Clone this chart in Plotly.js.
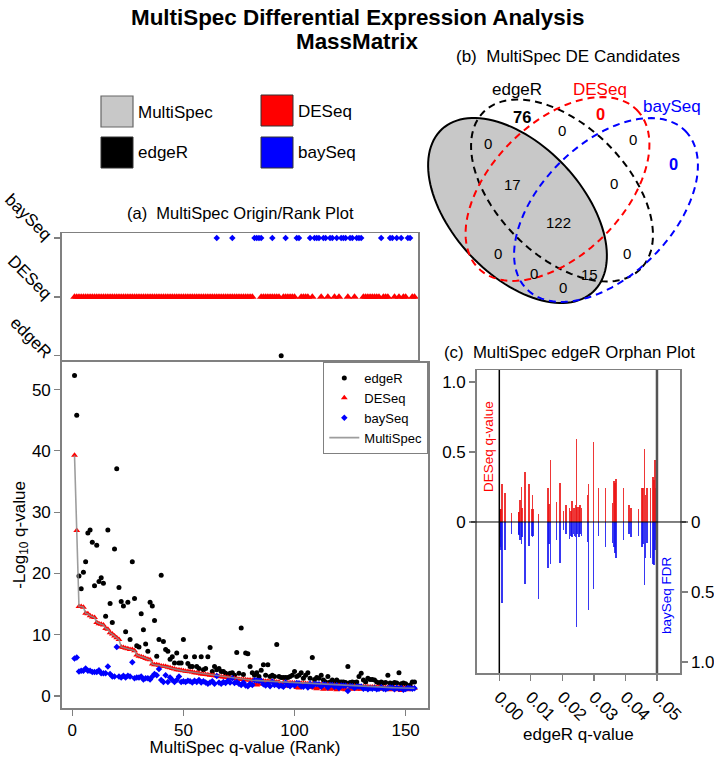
<!DOCTYPE html>
<html><head><meta charset="utf-8">
<script src="https://cdn.plot.ly/plotly-3.0.1.min.js"></script>
<style>html,body{margin:0;padding:0;background:#fff}#chart{width:714px;height:757px}</style>
</head><body><div id="chart"></div>
<script>
const W = 714, H = 757;

// ---------- DATA ----------
// (a) lower: -log10 q-values by MultiSpec rank (1..154)
const edgeRVals = [52.3,45.8,19.6,17.5,20.2,21.9,26.6,27.1,25.1,18.0,
24.6,18.7,19.3,18.4,13.0,27.1,15.1,12.0,24.0,37.1,
17.7,15.4,14.7,10.5,15.3,9.2,21.9,15.9,8.2,8.0,
13.4,10.8,8.5,7.3,15.3,14.7,12.3,6.5,9.2,19.7,
8.9,7.6,7.3,6.0,6.4,5.4,7.0,5.4,5.4,9.2,
6.4,5.3,4.8,4.8,6.4,4.8,4.5,6.4,4.3,4.5,
6.4,7.9,4.0,4.8,4.3,4.5,4.0,4.0,3.7,3.4,
3.7,3.8,3.4,7.1,3.7,11.1,3.5,7.0,6.9,4.8,
3.8,3.4,3.8,3.2,4.2,5.1,3.4,5.1,3.2,3.4,
3.2,8.4,3.2,3.0,3.0,3.0,3.0,3.2,3.4,4.0,
3.2,3.4,3.8,2.9,3.4,3.8,2.9,6.3,2.7,3.0,
2.9,3.4,2.6,2.3,3.2,2.3,2.6,2.3,2.6,2.3,
2.3,2.3,2.2,4.8,2.2,2.3,2.2,2.3,3.2,3.7,
2.6,2.3,2.9,2.7,2.7,2.6,2.3,2.1,2.3,2.1,
2.2,3.4,2.1,2.0,2.2,2.1,3.8,2.0,2.1,2.0,
1.6,1.8,2.3,2.3];
const deseqVals = [39.3,27.0,14.6,14.6,14.5,13.5,13.4,13.1,12.9,12.8,
12.0,11.8,11.7,11.6,11.0,10.9,10.3,10.1,9.8,9.5,
9.2,8.0,7.9,7.8,7.7,7.6,7.6,7.4,6.7,6.5,
6.4,6.3,6.1,6.0,5.9,5.2,5.1,5.1,5.0,4.9,
4.85,4.8,4.7,4.6,4.5,4.4,4.3,4.25,4.2,4.1,
4.05,4.0,3.95,3.9,3.8,3.75,3.7,3.6,3.55,3.5,
3.45,3.4,3.35,3.3,3.25,3.2,3.15,3.1,3.05,3.0,
2.95,2.9,2.85,2.8,2.75,2.7,2.68,2.65,2.62,2.6,
2.57,1.9,1.8,1.9,2.47,2.45,2.42,2.4,2.37,2.35,
2.32,2.3,2.27,1.7,2.22,1.6,2.18,2.16,2.14,2.12,
1.4,1.3,2.06,2.04,2.02,2.0,1.4,1.96,1.3,1.2,
1.4,1.88,1.1,1.2,1.82,1.1,1.2,1.76,1.0,1.72,
1.2,1.1,1.0,1.64,1.2,1.1,1.58,1.1,1.2,1.1,
1.52,1.51,1.5,1.48,1.47,1.46,1.44,1.43,1.1,1.4,
1.39,1.38,1.0,1.1,1.35,1.0,1.33,0.9,1.31,1.3,
1.0,1.1,1.27,1.26];
const baySeqVals = [6.1,6.3,4.0,4.1,4.1,4.5,4.1,4.1,3.9,3.9,
3.9,4.2,3.7,3.7,3.7,4.8,3.6,3.2,3.2,8.0,
3.2,3.0,3.3,3.0,3.3,3.2,5.5,2.9,3.0,3.0,
3.2,2.7,2.9,2.9,2.7,3.2,3.6,3.4,4.4,2.6,
2.3,3.4,2.3,3.0,2.6,2.3,2.6,3.2,2.3,2.4,
2.3,2.5,2.4,2.2,2.5,2.3,2.6,2.2,2.4,2.2,
2.0,2.2,2.4,2.0,3.25,2.2,2.0,2.3,2.1,2.5,
2.2,2.9,2.1,2.3,2.0,1.8,2.2,1.7,1.6,2.0,
1.8,2.55,2.52,2.5,2.47,1.9,1.7,2.0,1.6,2.35,
1.8,1.9,1.6,1.7,1.5,2.2,1.8,1.6,1.9,1.7,
2.1,2.08,1.6,1.5,1.8,1.4,1.98,1.6,1.94,1.92,
1.9,1.5,1.86,1.84,1.4,1.8,1.78,1.5,1.74,1.3,
1.7,1.68,1.66,0.8,1.62,1.6,1.3,1.56,1.55,1.54,
1.2,1.3,1.1,1.25,1.2,1.3,1.1,1.2,1.42,1.2,
1.1,1.25,1.37,1.36,1.1,1.34,1.2,1.32,1.0,1.15,
1.29,1.28,1.2,1.26];
const multiSpecVals = [39.3,27.0,14.6,14.6,14.5,13.5,13.4,13.1,12.9,12.8,
12.0,11.8,11.7,11.6,11.0,10.9,10.3,10.1,9.8,9.5,
9.2,8.0,7.9,7.8,7.7,7.6,7.6,7.4,6.7,6.5,
6.4,6.3,6.1,6.0,5.9,5.2,5.1,5.1,5.0,4.9,
4.85,4.8,4.7,4.6,4.5,4.4,4.3,4.25,4.2,4.1,
4.05,4.0,3.95,3.9,3.8,3.75,3.7,3.6,3.55,3.5,
3.45,3.4,3.35,3.3,3.25,3.2,3.15,3.1,3.05,3.0,
2.95,2.9,2.85,2.8,2.75,2.7,2.68,2.65,2.62,2.6,
2.57,2.55,2.52,2.5,2.47,2.45,2.42,2.4,2.37,2.35,
2.32,2.3,2.27,2.25,2.22,2.2,2.18,2.16,2.14,2.12,
2.1,2.08,2.06,2.04,2.02,2.0,1.98,1.96,1.94,1.92,
1.9,1.88,1.86,1.84,1.82,1.8,1.78,1.76,1.74,1.72,
1.7,1.68,1.66,1.64,1.62,1.6,1.58,1.56,1.55,1.54,
1.52,1.51,1.5,1.48,1.47,1.46,1.44,1.43,1.42,1.4,
1.39,1.38,1.37,1.36,1.35,1.34,1.33,1.32,1.31,1.3,
1.29,1.28,1.27,1.26];

// (a) upper: origin of each rank
const originCategories = ['edgeR','DESeq','baySeq'];
const edgeROriginRanks = [94];
const deseqOriginRuns = [[1,81],[85,93],[95,100],[103,106],[108,108],[112,112],[115,115],[118,118],[120,120],[124,124],[127,127],[131,138],[140,142],[145,145],[147,147],[149,150],[153,154]];
const baySeqOriginRanks = [65,72,82,83,84,85,90,96,101,102,107,109,110,111,113,114,116,117,119,121,122,123,125,126,128,129,130,139,143,144,146,148,151,152];

// (b) Venn counts
const vennSetNames = ['edgeR','DESeq','baySeq'];
const vennCounts = ['76','0','0','0','0','0','17','0','122','0','0','0','15','0'];

// (c) edgeR orphans
const orphanQ = [0.0000,0.0002,0.0004,0.0006,0.0008,0.0018,0.0038,0.0061,0.0063,0.0066,
0.0070,0.0072,0.0081,0.0094,0.0103,0.0105,0.0109,0.0125,0.0154,0.0158,
0.0162,0.0182,0.0193,0.0203,0.0212,0.0222,0.0227,0.0230,0.0235,0.0238,
0.0241,0.0244,0.0247,0.0253,0.0256,0.0260,0.0279,0.0283,0.0298,0.0315,
0.0337,0.0359,0.0364,0.0367,0.0370,0.0394,0.0411,0.0418,0.0441,0.0453,
0.0456,0.0460,0.0464,0.0468,0.0479,0.0487,0.0490,0.0494,0.0497];
const orphanDESeq = [0.086,0.09,0.085,0.09,0.27,0.21,0.064,0.07,0.07,0.16,
0.25,0.10,0.36,0.27,0.093,0.19,0.09,0.06,0.24,0.13,
0.44,0.14,0.28,0.08,0.12,0.10,0.08,0.15,0.10,0.10,
0.12,0.59,0.11,0.11,0.12,0.10,0.19,0.27,0.57,0.24,
0.24,0.135,0.29,0.28,0.31,0.24,0.12,0.10,0.093,0.24,
0.24,0.52,0.19,0.24,0.24,0.32,0.30,0.44,0.24];
const orphanBaySeq = [0.25,0.11,0.18,0.2,0.58,0.2,0.085,0.085,0.09,0.13,
0.16,0.11,0.44,0.17,0.10,0.11,0.10,0.55,0.33,0.16,
0.30,0.13,0.29,0.06,0.085,0.12,0.10,0.11,0.085,0.10,
0.11,0.75,0.085,0.11,0.085,0.10,0.145,0.63,0.48,0.10,
0.18,0.15,0.18,0.22,0.26,0.13,0.085,0.11,0.10,0.18,
0.16,0.45,0.26,0.15,0.26,0.30,0.31,0.20,0.13];
const orphanTicks = [0,0.01,0.02,0.03,0.04,0.05];
const orphanTickText = ['0.00','0.01','0.02','0.03','0.04','0.05'];

// ---------- BUILD ----------
const ranks = multiSpecVals.map((_, i) => i + 1);
const deseqOriginRanks = [];
deseqOriginRuns.forEach(([a, b]) => { for (let r = a; r <= b; r++) deseqOriginRanks.push(r); });

const px = x => x / W, py = y => 1 - y / H;
const FONT = 'Liberation Sans, Arial, Helvetica, sans-serif';
const GRAY = '#808080';

const traces = [
  {x: ranks, y: edgeRVals, name: 'edgeR', type: 'scatter', mode: 'markers', xaxis: 'x', yaxis: 'y',
   marker: {color: 'black', size: 5, symbol: 'circle'}},
  {x: ranks, y: deseqVals, name: 'DESeq', type: 'scatter', mode: 'markers', xaxis: 'x', yaxis: 'y',
   marker: {color: 'red', size: 6, symbol: 'triangle-up'}},
  {x: ranks, y: baySeqVals, name: 'baySeq', type: 'scatter', mode: 'markers', xaxis: 'x', yaxis: 'y',
   marker: {color: 'blue', size: 5, symbol: 'diamond'}},
  {x: ranks, y: multiSpecVals, name: 'MultiSpec', type: 'scatter', mode: 'lines', xaxis: 'x', yaxis: 'y',
   line: {color: 'rgba(140,140,140,0.85)', width: 1.6}},
  // origin plot
  {x: deseqOriginRanks, y: deseqOriginRanks.map(() => 1), type: 'scatter', mode: 'markers', xaxis: 'x2', yaxis: 'y2',
   marker: {color: 'red', size: 7.5, symbol: 'triangle-up'}, showlegend: false},
  {x: baySeqOriginRanks, y: baySeqOriginRanks.map(() => 2), type: 'scatter', mode: 'markers', xaxis: 'x2', yaxis: 'y2',
   marker: {color: 'blue', size: 5, symbol: 'diamond'}, showlegend: false},
  {x: edgeROriginRanks, y: edgeROriginRanks.map(() => 0), type: 'scatter', mode: 'markers', xaxis: 'x2', yaxis: 'y2',
   marker: {color: 'black', size: 5, symbol: 'circle'}, showlegend: false},
  // orphan plot
  {x: orphanQ, y: orphanDESeq, type: 'bar', xaxis: 'x3', yaxis: 'y3', width: 0.00045,
   marker: {color: 'rgba(235,20,20,0.85)', line: {width: 0}}, showlegend: false},
  {x: orphanQ, y: orphanBaySeq.map(v => -v), type: 'bar', xaxis: 'x3', yaxis: 'y4', width: 0.00045,
   marker: {color: 'rgba(20,20,240,0.85)', line: {width: 0}}, showlegend: false}
];

const axBase = {showline: true, mirror: true, linecolor: GRAY, linewidth: 1.5, showgrid: false, zeroline: false,
  ticks: 'outside', ticklen: 6, tickcolor: GRAY, tickwidth: 1.2, tickfont: {family: FONT, size: 17, color: 'black'}};

function ell(cx, cy, a, b, deg) {
  const t = deg * Math.PI / 180; let d = '';
  for (let i = 0; i <= 120; i++) {
    const u = 2 * Math.PI * i / 120;
    const x = cx + a * Math.cos(u) * Math.cos(t) - b * Math.sin(u) * Math.sin(t);
    const y = cy + a * Math.cos(u) * Math.sin(t) + b * Math.sin(u) * Math.cos(t);
    d += (i ? 'L' : 'M') + px(x).toFixed(5) + ',' + py(y).toFixed(5);
  }
  return d + 'Z';
}

const shapes = [
  // key squares
  {type: 'rect', xref: 'paper', yref: 'paper', x0: px(101), x1: px(133), y0: py(96), y1: py(127), fillcolor: '#c8c8c8', line: {color: '#666', width: 1.2}},
  {type: 'rect', xref: 'paper', yref: 'paper', x0: px(261), x1: px(293), y0: py(95), y1: py(126), fillcolor: 'red', line: {color: '#333', width: 1}},
  {type: 'rect', xref: 'paper', yref: 'paper', x0: px(101), x1: px(133), y0: py(137), y1: py(168), fillcolor: 'black', line: {color: '#333', width: 1}},
  {type: 'rect', xref: 'paper', yref: 'paper', x0: px(261), x1: px(293), y0: py(137), y1: py(168), fillcolor: 'blue', line: {color: '#333', width: 1}},
  // Venn ellipses
  {type: 'path', xref: 'paper', yref: 'paper', path: ell(517.5, 210.5, 111, 65, 47), fillcolor: '#c8c8c8', line: {color: 'black', width: 2}},
  {type: 'path', xref: 'paper', yref: 'paper', path: ell(562, 190.5, 111, 65, 45), line: {color: 'black', width: 2, dash: '7px,5px'}},
  {type: 'path', xref: 'paper', yref: 'paper', path: ell(557.5, 189, 112, 66, -45), line: {color: 'red', width: 2, dash: '7px,5px'}},
  {type: 'path', xref: 'paper', yref: 'paper', path: ell(606, 210, 112, 66, -45), line: {color: 'blue', width: 2, dash: '7px,5px'}},
  // orphan plot guides
  {type: 'line', xref: 'x3', yref: 'y3 domain', x0: 0, x1: 0, y0: 0, y1: 1, line: {color: 'black', width: 1.5}},
  {type: 'line', xref: 'x3', yref: 'y3 domain', x0: 0.05, x1: 0.05, y0: 0, y1: 1, line: {color: '#555', width: 2.5}},
  {type: 'line', xref: 'paper', yref: 'y3', x0: px(471), x1: px(686), y0: 0, y1: 0, line: {color: 'black', width: 1}}
];

const ann = (text, x, y, size, color, extra) => Object.assign({text, xref: 'paper', yref: 'paper', x: px(x), y: py(y),
  showarrow: false, font: {family: FONT, size, color: color || 'black'}, xanchor: 'center', yanchor: 'middle'}, extra || {});

const annotations = [
  ann('<b>MultiSpec Differential Expression Analysis</b>', 357, 17, 22.4),
  ann('<b>MassMatrix</b>', 357, 42, 22.4),
  ann('MultiSpec', 136, 112, 17, 'black', {xanchor: 'left'}),
  ann('DESeq', 296, 111, 17, 'black', {xanchor: 'left'}),
  ann('edgeR', 136, 153, 17, 'black', {xanchor: 'left'}),
  ann('baySeq', 296, 153, 17, 'black', {xanchor: 'left'}),
  ann('(a)\u00a0\u00a0MultiSpec Origin/Rank Plot', 240, 213, 16.5),
  ann('(b)\u00a0\u00a0MultiSpec DE Candidates', 568, 57, 17),
  ann('(c)\u00a0\u00a0MultiSpec edgeR Orphan Plot', 569, 352, 16.8),
  ann('DESeq q-value', 488, 447, 13.5, 'red', {textangle: -90}),
  ann('baySeq FDR', 666, 595, 13.5, 'blue', {textangle: -90}),
  // Venn set labels
  ann(vennSetNames[0], 517, 90, 17, 'black'),
  ann(vennSetNames[1], 600, 90, 17, 'red'),
  ann(vennSetNames[2], 672, 107, 17, 'blue'),
  // Venn counts
  ann('<b>' + vennCounts[0] + '</b>', 522, 117, 16.5, 'black'),
  ann('<b>' + vennCounts[1] + '</b>', 600, 114, 16.5, 'red'),
  ann('<b>' + vennCounts[2] + '</b>', 673, 164, 16.5, 'blue'),
  ann(vennCounts[3], 488, 143, 15),
  ann(vennCounts[4], 562, 130, 15),
  ann(vennCounts[5], 633, 139, 15),
  ann(vennCounts[6], 512, 184, 15),
  ann(vennCounts[7], 614, 183, 15),
  ann(vennCounts[8], 558, 223, 15),
  ann(vennCounts[9], 498, 254, 15),
  ann(vennCounts[10], 627, 254, 15),
  ann(vennCounts[11], 534, 273, 15),
  ann(vennCounts[12], 589, 274, 15),
  ann(vennCounts[13], 563, 287, 15)
];

const layout = {
  width: W, height: H, margin: {l: 0, r: 0, t: 0, b: 0}, paper_bgcolor: 'white', plot_bgcolor: 'white',
  font: {family: FONT, color: 'black'},
  showlegend: true, barmode: 'overlay', bargap: 0,
  legend: {x: px(428.3), xanchor: 'right', y: py(362), yanchor: 'top', bordercolor: GRAY, borderwidth: 1,
    bgcolor: 'white', font: {family: FONT, size: 13, color: 'black'}, tracegroupgap: 0},
  xaxis: Object.assign({}, axBase, {domain: [px(61.7), px(428.3)], range: [-4.77, 160.2], anchor: 'y',
    tickvals: [0, 50, 100, 150], title: {text: 'MultiSpec q-value (Rank)', font: {family: FONT, size: 17}, standoff: 0}}),
  yaxis: Object.assign({}, axBase, {domain: [py(708), py(362)], range: [-1.96, 54.5], anchor: 'x',
    tickvals: [0, 10, 20, 30, 40, 50], title: {text: '-Log<sub>10</sub> q-value', font: {family: FONT, size: 17}, standoff: 2}}),
  xaxis2: Object.assign({}, axBase, {domain: [px(61.7), px(418.3)], range: [-4.77, 155.7], anchor: 'y2',
    showticklabels: false, ticks: ''}),
  yaxis2: Object.assign({}, axBase, {domain: [py(360), py(233.3)], range: [-0.07, 2.08], anchor: 'x2',
    tickvals: [0, 1, 2], ticktext: originCategories, tickangle: 45}),
  xaxis3: Object.assign({}, axBase, {domain: [px(476.7), px(680)], range: [-0.00717, 0.0573], anchor: 'y3',
    tickvals: orphanTicks, ticktext: orphanTickText, tickangle: 45,
    title: {text: 'edgeR q-value', font: {family: FONT, size: 17}, standoff: 4}}),
  yaxis3: Object.assign({}, axBase, {domain: [py(673), py(370)], range: [-1.079, 1.086], anchor: 'x3',
    tickvals: [0, 0.5, 1], ticktext: ['0', '0.5', '1.0'], mirror: false}),
  yaxis4: Object.assign({}, axBase, {overlaying: 'y3', side: 'right', anchor: 'x3', range: [-1.079, 1.086],
    tickvals: [0, -0.5, -1], ticktext: ['0', '0.5', '1.0'], mirror: false}),
  shapes, annotations
};

Plotly.newPlot('chart', traces, layout, {displayModeBar: false, staticPlot: true});
</script>
</body></html>
